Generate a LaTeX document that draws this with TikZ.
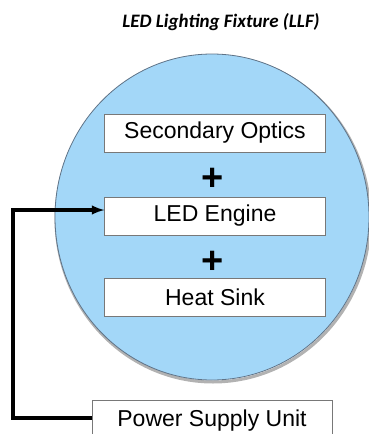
\documentclass[tikz,border=0pt]{standalone}
\usepackage{fontspec}
\setmainfont{Liberation Sans}
\newfontfamily\titlefont{Carlito}
\usetikzlibrary{calc}

\definecolor{lightblue}{RGB}{163,215,248}
\definecolor{rimgray}{RGB}{95,115,135}
\definecolor{boxgray}{RGB}{120,120,120}

\tikzset{
    part/.style = {draw=boxgray, fill=white, minimum width=221, minimum height=38,
                   inner sep=0pt, font=\fontsize{23}{26}\selectfont},
    plus/.style = {font=\fontsize{38}{38}\selectfont\bfseries, inner sep=0pt}
}

\begin{document}
\begin{tikzpicture}[x=1pt,y=-1pt]

    % Fix the page size
    \useasboundingbox (0,0) rectangle (369,434);
    \clip (0,0) rectangle (369,434);

    % Title
    \node (title) at (221,22) {\titlefont\fontsize{19}{22}\selectfont\bfseries\itshape LED Lighting Fixture (LLF)};

    % The fixture itself
    \draw [gray!60, line width=3pt] (213,219) ellipse (157 and 163);
    \draw [rimgray, fill=lightblue, line width=0.8pt] (212,217) ellipse (157 and 163);

    % Parts of the fixture
    \node [part] (optics) at (215,133) {Secondary Optics};
    \node [plus] (plus1) at (213,179) {+};
    \node [part] (engine) at (215,216) {LED Engine};
    \node [plus] (plus2) at (213,262) {+};
    \node [part] (sink) at (215,297) {Heat Sink};

    % Power supply, cut by the lower edge
    \node [part, minimum width=240, minimum height=52] (psu) at (212,426) {};
    \node (psutext) at (212,421) {\fontsize{23}{26}\selectfont Power Supply Unit};

    % Feed line
    \coordinate (A) at ($(psu.west)+(0,-8)$);
    \coordinate (B) at (13,418);
    \coordinate (C) at (13,210);
    \coordinate (E) at ($(engine.west)+(0,-6)$);
    \draw [line width=3.2pt, -latex] (A) -- (B) -- (C) -- (E);

\end{tikzpicture}
\end{document}
